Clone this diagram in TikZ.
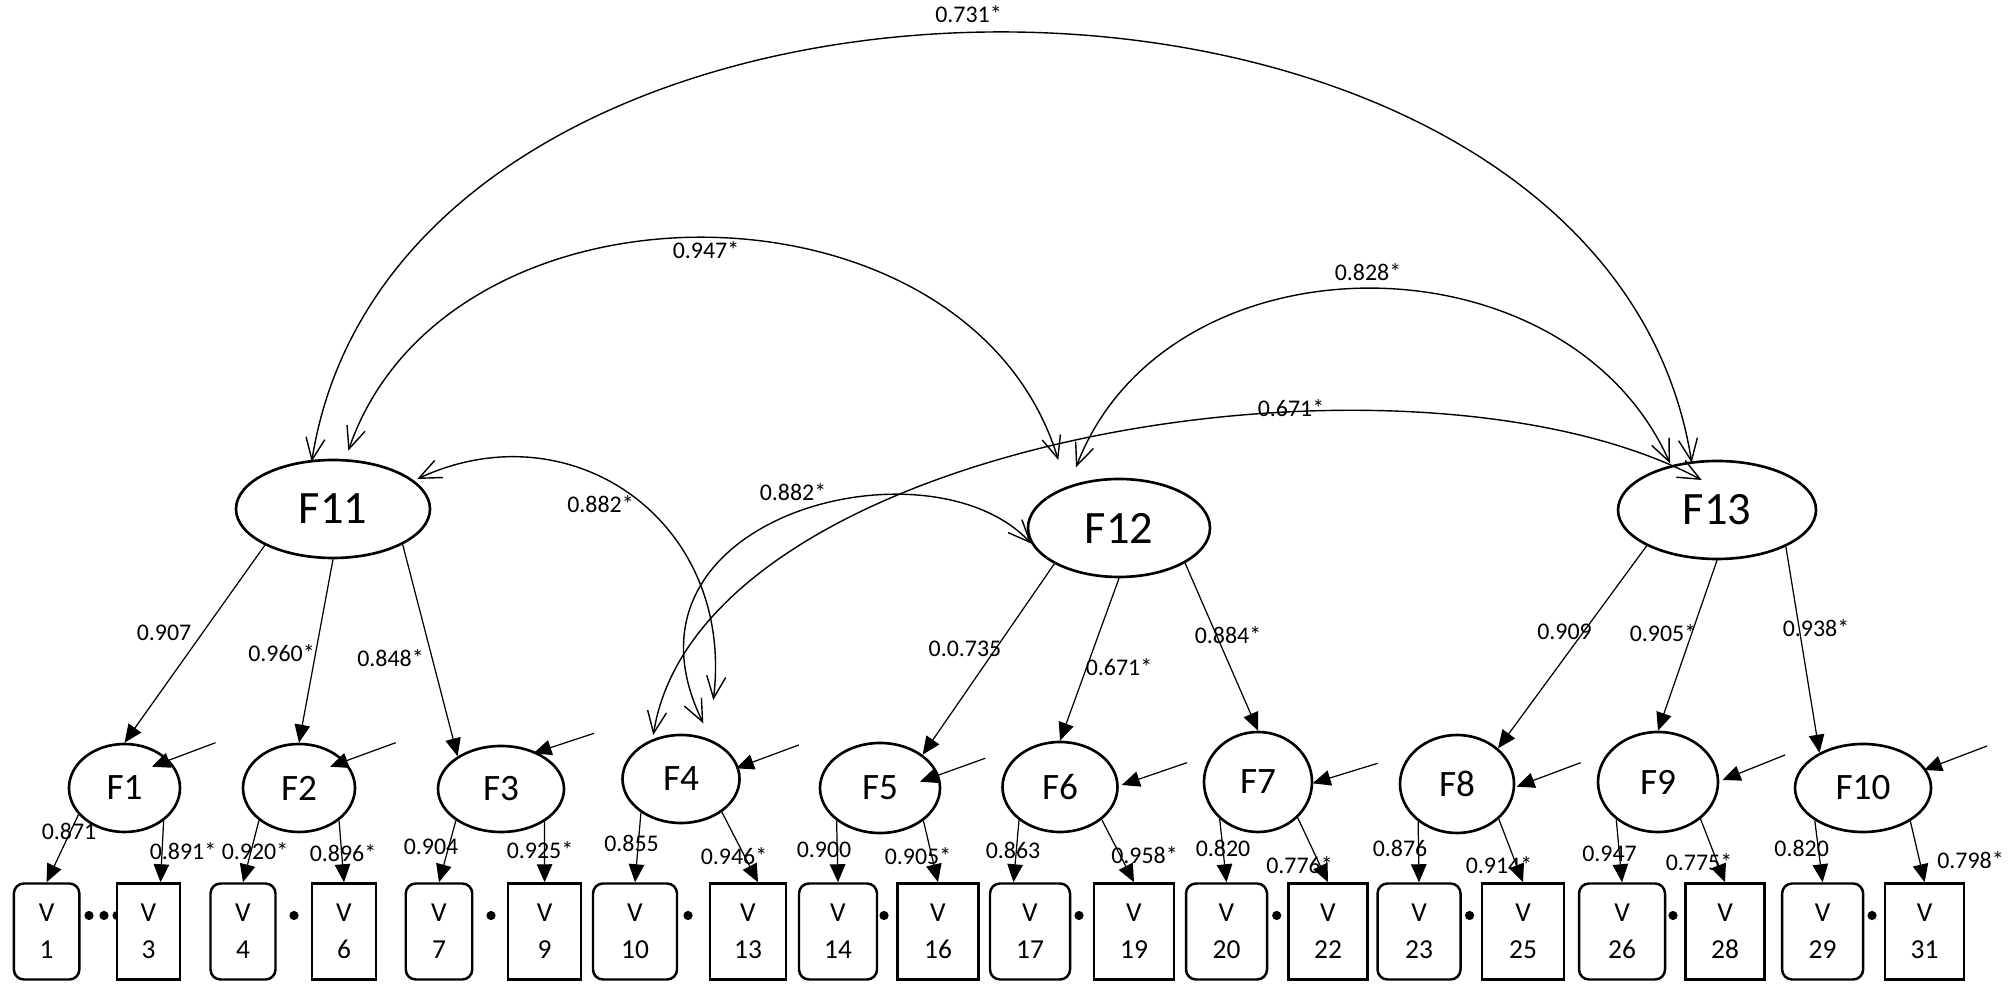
\documentclass[tikz,border=0pt]{standalone}
\usepackage{fontspec}
\setmainfont{Carlito}
\usetikzlibrary{arrows.meta,shapes.geometric}

\begin{document}
\begin{tikzpicture}[line width=0.35pt]
    \tikzstyle{lat}=[draw, ellipse, line width=0.75pt, inner sep=0pt, fill=white, font=\fontsize{10.6}{12}\selectfont]
    \tikzstyle{latbig}=[style=lat, font=\fontsize{13.2}{15}\selectfont]
    \tikzstyle{obs}=[draw, rectangle, line width=0.7pt, inner sep=0pt, fill=white, minimum height=0.96cm, align=center, font=\fontsize{7.8}{10.5}\selectfont]
    \tikzstyle{obsr}=[style=obs, rounded corners=0.1cm]
    \tikzstyle{load}=[-{Triangle[length=0.18cm,width=0.155cm]}]
    \tikzstyle{cov}=[{Straight Barb[length=0.22cm,width=0.19cm]}-{Straight Barb[length=0.22cm,width=0.19cm]}, line width=0.4pt]
    \tikzstyle{lbl}=[inner sep=0pt, font=\fontsize{6.8}{8}\selectfont]

    \useasboundingbox (0,0) rectangle (20.10,9.85);

    % dots between the indicators
    \foreach \x in {0.89,1.04,1.17,2.94,4.91,6.88,8.84,10.79,12.767,14.696,16.73,18.72}
      \fill (\x,0.695) circle (0.046);

    % second order factors
    \node[latbig, minimum width=1.94cm, minimum height=0.98cm] (F11) at (3.33,4.76)  {F11};
    \node[latbig, minimum width=1.82cm, minimum height=0.98cm] (F12) at (11.19,4.57) {F12};
    \node[latbig, minimum width=1.98cm, minimum height=0.98cm] (F13) at (17.17,4.75) {F13};

    % first order factors
    \node[lat, minimum width=1.11cm, minimum height=0.88cm] (F1)  at (1.245,1.97) {F1};
    \node[lat, minimum width=1.12cm, minimum height=0.88cm] (F2)  at (2.99,1.97)  {F2};
    \node[lat, minimum width=1.26cm, minimum height=0.86cm] (F3)  at (5.01,1.96)  {F3};
    \node[lat, minimum width=1.17cm, minimum height=0.88cm] (F4)  at (6.81,2.06)  {F4};
    \node[lat, minimum width=1.20cm, minimum height=0.90cm] (F5)  at (8.80,1.97)  {F5};
    \node[lat, minimum width=1.15cm, minimum height=0.90cm] (F6)  at (10.60,1.98) {F6};
    \node[lat, minimum width=1.08cm, minimum height=1.00cm] (F7)  at (12.58,2.03) {F7};
    \node[lat, minimum width=1.14cm, minimum height=0.98cm] (F8)  at (14.57,2.01) {F8};
    \node[lat, minimum width=1.20cm, minimum height=1.00cm] (F9)  at (16.58,2.03) {F9};
    \node[lat, minimum width=1.36cm, minimum height=0.88cm] (F10) at (18.63,1.97) {F10};

    % indicators
    \node[obsr, minimum width=0.655cm] (V1)  at (0.466,0.535)  {V\\1};
    \node[obs,  minimum width=0.63cm]  (V3)  at (1.485,0.535)  {V\\3};
    \node[obsr, minimum width=0.65cm]  (V4)  at (2.43,0.535)   {V\\4};
    \node[obs,  minimum width=0.635cm] (V6)  at (3.44,0.535)   {V\\6};
    \node[obsr, minimum width=0.665cm] (V7)  at (4.39,0.535)   {V\\7};
    \node[obs,  minimum width=0.73cm]  (V9)  at (5.446,0.535)  {V\\9};
    \node[obsr, minimum width=0.84cm]  (V10) at (6.35,0.535)   {V\\10};
    \node[obs,  minimum width=0.76cm]  (V13) at (7.48,0.535)   {V\\13};
    \node[obsr, minimum width=0.78cm]  (V14) at (8.38,0.535)   {V\\14};
    \node[obs,  minimum width=0.81cm]  (V16) at (9.38,0.535)   {V\\16};
    \node[obsr, minimum width=0.80cm]  (V17) at (10.30,0.535)  {V\\17};
    \node[obs,  minimum width=0.80cm]  (V19) at (11.34,0.535)  {V\\19};
    \node[obsr, minimum width=0.81cm]  (V20) at (12.265,0.535) {V\\20};
    \node[obs,  minimum width=0.79cm]  (V22) at (13.28,0.535)  {V\\22};
    \node[obsr, minimum width=0.83cm]  (V23) at (14.19,0.535)  {V\\23};
    \node[obs,  minimum width=0.82cm]  (V25) at (15.23,0.535)  {V\\25};
    \node[obsr, minimum width=0.86cm]  (V26) at (16.22,0.535)  {V\\26};
    \node[obs,  minimum width=0.79cm]  (V28) at (17.25,0.535)  {V\\28};
    \node[obsr, minimum width=0.81cm]  (V29) at (18.226,0.535) {V\\29};
    \node[obs,  minimum width=0.79cm]  (V31) at (19.246,0.535) {V\\31};

    % free ends of the residual arrows
    \coordinate (d1)  at (2.155,2.423);
    \coordinate (d2)  at (3.957,2.423);
    \coordinate (d3)  at (5.94,2.517);
    \coordinate (d4)  at (7.988,2.40);
    \coordinate (d5)  at (9.852,2.267);
    \coordinate (d6)  at (11.869,2.223);
    \coordinate (d7)  at (13.777,2.217);
    \coordinate (d8)  at (15.806,2.223);
    \coordinate (d9)  at (17.85,2.30);
    \coordinate (d10) at (19.87,2.39);

    \path[load]
     (F11.208)   edge (F1.north)
     (F11.south) edge (F2.north)
     (F11.-27)   edge (F3.143)
     (F12.209)   edge (F5.38)
     (F12.south) edge (F6.north)
     (F12.-28)   edge (F7.north)
     (F13.207)   edge (F8.41)
     (F13.south) edge (F9.north)
     (F13.-28)   edge (F10.141)
     (F1.210)  edge (V1.north)
     (F1.-40)  edge ([xshift=0.12cm]V3.north)
     (F2.219)  edge (V4.north)
     (F2.-39)  edge (V6.north)
     (F3.215)  edge (V7.north)
     (F3.-37)  edge (V9.north)
     (F4.220)  edge (V10.north)
     (F4.-39)  edge ([xshift=0.1cm]V13.north)
     (F5.217)  edge (V14.north)
     (F5.-37)  edge (V16.north)
     (F6.219)  edge ([xshift=-0.165cm]V17.north)
     (F6.-38)  edge (V19.north)
     (F7.224)  edge (V20.north)
     (F7.-42)  edge (V22.north)
     (F8.224)  edge (V23.north)
     (F8.-40)  edge (V25.north)
     (F9.222)  edge (V26.north)
     (F9.-41)  edge (V28.north)
     (F10.214) edge (V29.north)
     (F10.-35) edge (V31.north)
     (d1)  edge ([shift={(0.273,0.213)}]F1.center)
     (d2)  edge ([shift={(0.31,0.213)}]F2.center)
     (d3)  edge ([shift={(0.324,0.357)}]F3.center)
     (d4)  edge ([shift={(0.549,0.107)}]F4.center)
     (d5)  edge ([shift={(0.40,0.063)}]F5.center)
     (d6)  edge ([shift={(0.618,0.02)}]F6.center)
     (d7)  edge ([shift={(0.546,-0.013)}]F7.center)
     (d8)  edge ([shift={(0.595,-0.027)}]F8.center)
     (d9)  edge ([shift={(0.645,0.02)}]F9.center)
     (d10) edge ([shift={(0.61,0.18)}]F10.center)
     ;

    % correlations
    \path[cov]
     ([shift={(-0.213,0.473)}]F11.center) edge[out=81,in=99,distance=5.8cm]   ([shift={(-0.253,0.473)}]F13.center)
     ([shift={(0.153,0.583)}]F11.center)  edge[out=71,in=107,distance=3.05cm] ([shift={(-0.607,0.68)}]F12.center)
     ([shift={(-0.43,0.607)}]F12.center)  edge[out=69,in=114,distance=2.55cm] ([shift={(-0.47,0.467)}]F13.center)
     ([shift={(-0.277,0.44)}]F4.center)   edge[out=81,in=152,out distance=3cm,in distance=3.3cm] ([shift={(-0.153,0.30)}]F13.center)
     ([shift={(0.843,0.30)}]F11.center)   edge[out=25,in=83,out distance=1.7cm,in distance=1.8cm] ([shift={(0.323,0.79)}]F4.center)
     ([shift={(0.223,0.557)}]F4.center)   edge[out=116,in=133,out distance=2.3cm,in distance=1.5cm] (F12.190)
     ;

    % loadings
    \node[lbl] (l907) at (1.64,3.52)   {0.907};
    \node[lbl] (l960) at (2.815,3.32)  {0.960*};
    \node[lbl] (l848) at (3.905,3.27)  {0.848*};
    \node[lbl] (l735) at (9.65,3.36)   {0.0.735};
    \node[lbl] (l671) at (11.19,3.18)  {0.671*};
    \node[lbl] (l884) at (12.28,3.50)  {0.884*};
    \node[lbl] (l909) at (15.645,3.53) {0.909};
    \node[lbl] (l905) at (16.63,3.52)  {0.905*};
    \node[lbl] (l938) at (18.16,3.57)  {0.938*};

    \node[lbl] (m1)  at (0.69,1.54)   {0.871};
    \node[lbl] (m3)  at (1.83,1.335)  {0.891*};
    \node[lbl] (m4)  at (2.55,1.335)  {0.920*};
    \node[lbl] (m6)  at (3.43,1.315)  {0.896*};
    \node[lbl] (m7)  at (4.31,1.385)  {0.904};
    \node[lbl] (m9)  at (5.40,1.35)   {0.925*};
    \node[lbl] (m10) at (6.315,1.42)  {0.855};
    \node[lbl] (m13) at (7.34,1.29)   {0.946*};
    \node[lbl] (m14) at (8.24,1.35)   {0.900};
    \node[lbl] (m16) at (9.18,1.29)   {0.905*};
    \node[lbl] (m17) at (10.13,1.35)  {0.863};
    \node[lbl] (m19) at (11.445,1.30) {0.958*};
    \node[lbl] (m20) at (12.23,1.37)  {0.820};
    \node[lbl] (m22) at (12.995,1.20) {0.776*};
    \node[lbl] (m23) at (14.00,1.365) {0.876};
    \node[lbl] (m25) at (14.99,1.20)  {0.914*};
    \node[lbl] (m26) at (16.095,1.31) {0.947};
    \node[lbl] (m28) at (16.99,1.23)  {0.775*};
    \node[lbl] (m29) at (18.016,1.37) {0.820};
    \node[lbl] (m31) at (19.705,1.25) {0.798*};

    % correlation values
    \node[lbl] (c731) at (9.685,9.71) {0.731*};
    \node[lbl] (c947) at (7.06,7.35)  {0.947*};
    \node[lbl] (c828) at (13.68,7.13) {0.828*};
    \node[lbl] (c671) at (12.91,5.77) {0.671*};
    \node[lbl] (c882) at (6.005,4.81) {0.882*};
    \node[lbl] (d882) at (7.93,4.93)  {0.882*};
\end{tikzpicture}
\end{document}
